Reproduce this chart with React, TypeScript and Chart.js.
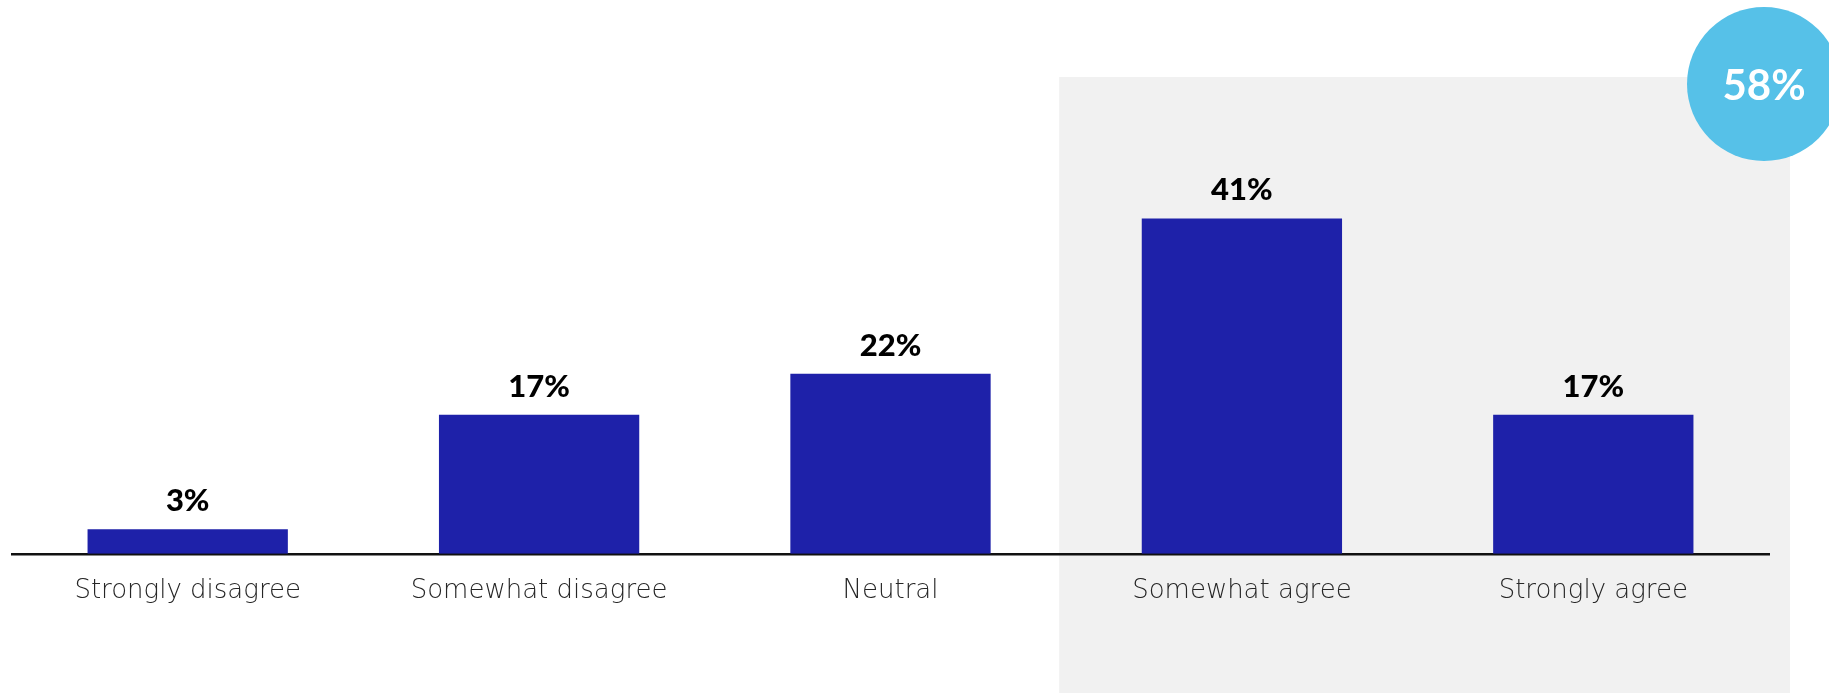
import React, { useEffect, useRef } from "react";
import { Chart, registerables } from "chart.js";

Chart.register(...registerables);

const categories = ["Strongly disagree", "Somewhat disagree", "Neutral", "Somewhat agree", "Strongly agree"];
const values = [3, 17, 22, 41, 17];
const highlightFrom = 3; // first "agree" category
const barColor = "#1E21A9";
const shadeColor = "#F1F1F1";
const badgeColor = "#56C1E8";

const decorPlugin = {
  id: "decor",
  beforeDraw(chart: any) {
    const { ctx, chartArea, scales, height } = chart;
    const x = scales.x;
    const left = (x.getPixelForValue(highlightFrom - 1) + x.getPixelForValue(highlightFrom)) / 2 - 7;
    const right = chartArea.right + 21;
    const top = chartArea.top + 14;
    ctx.save();
    ctx.fillStyle = shadeColor;
    ctx.fillRect(left, top, right - left, height - top);
    ctx.restore();
  },
  afterDatasetsDraw(chart: any) {
    const { ctx } = chart;
    const meta = chart.getDatasetMeta(0);
    ctx.save();
    ctx.fillStyle = "#000";
    ctx.font = "900 31px Lato";
    ctx.textAlign = "center";
    ctx.textBaseline = "alphabetic";
    meta.data.forEach((bar: any, i: number) => {
      ctx.fillText(values[i] + "%", bar.x, bar.y - 18);
    });
    ctx.restore();
  },
  afterDraw(chart: any) {
    const { ctx, chartArea } = chart;
    const total = values.slice(highlightFrom).reduce((a, b) => a + b, 0);
    const cx = chartArea.right - 5;
    const cy = chartArea.top + 21;
    ctx.save();
    ctx.fillStyle = badgeColor;
    ctx.beginPath();
    ctx.arc(cx, cy, 77, 0, Math.PI * 2);
    ctx.fill();
    ctx.fillStyle = "#fff";
    ctx.font = "bold 42px Lato";
    ctx.textAlign = "center";
    ctx.textBaseline = "middle";
    ctx.fillText(total + "%", cx, cy + 2);
    ctx.restore();
  },
};

export default function App() {
  const ref = useRef<HTMLCanvasElement>(null);
  useEffect(() => {
    document.body.style.margin = "0";
    const chart = new Chart(ref.current!, {
      type: "bar",
      data: {
        labels: categories,
        datasets: [
          {
            data: values,
            backgroundColor: barColor,
            categoryPercentage: 1,
            barPercentage: 0.57,
          },
        ],
      },
      options: {
        animation: false,
        responsive: false,
        layout: { padding: { left: 12, right: 60, top: 63, bottom: 64 } },
        plugins: { legend: { display: false }, tooltip: { enabled: false } },
        scales: {
          x: {
            grid: { display: false, drawTicks: false },
            border: { display: true, color: "#111", width: 2.5 },
            ticks: {
              padding: 22,
              color: "#262626",
              font: { family: "DejaVu Sans", size: 26, weight: "200" as any },
            },
          },
          y: { display: false, min: 0, max: 60 },
        },
      },
      plugins: [decorPlugin],
    });
    return () => chart.destroy();
  }, []);
  return (
    <div style={{ position: "absolute", left: 0, top: 0, width: 1829, height: 693 }}>
      <canvas ref={ref} width={1829} height={693} style={{ width: 1829, height: 693 }} />
    </div>
  );
}
